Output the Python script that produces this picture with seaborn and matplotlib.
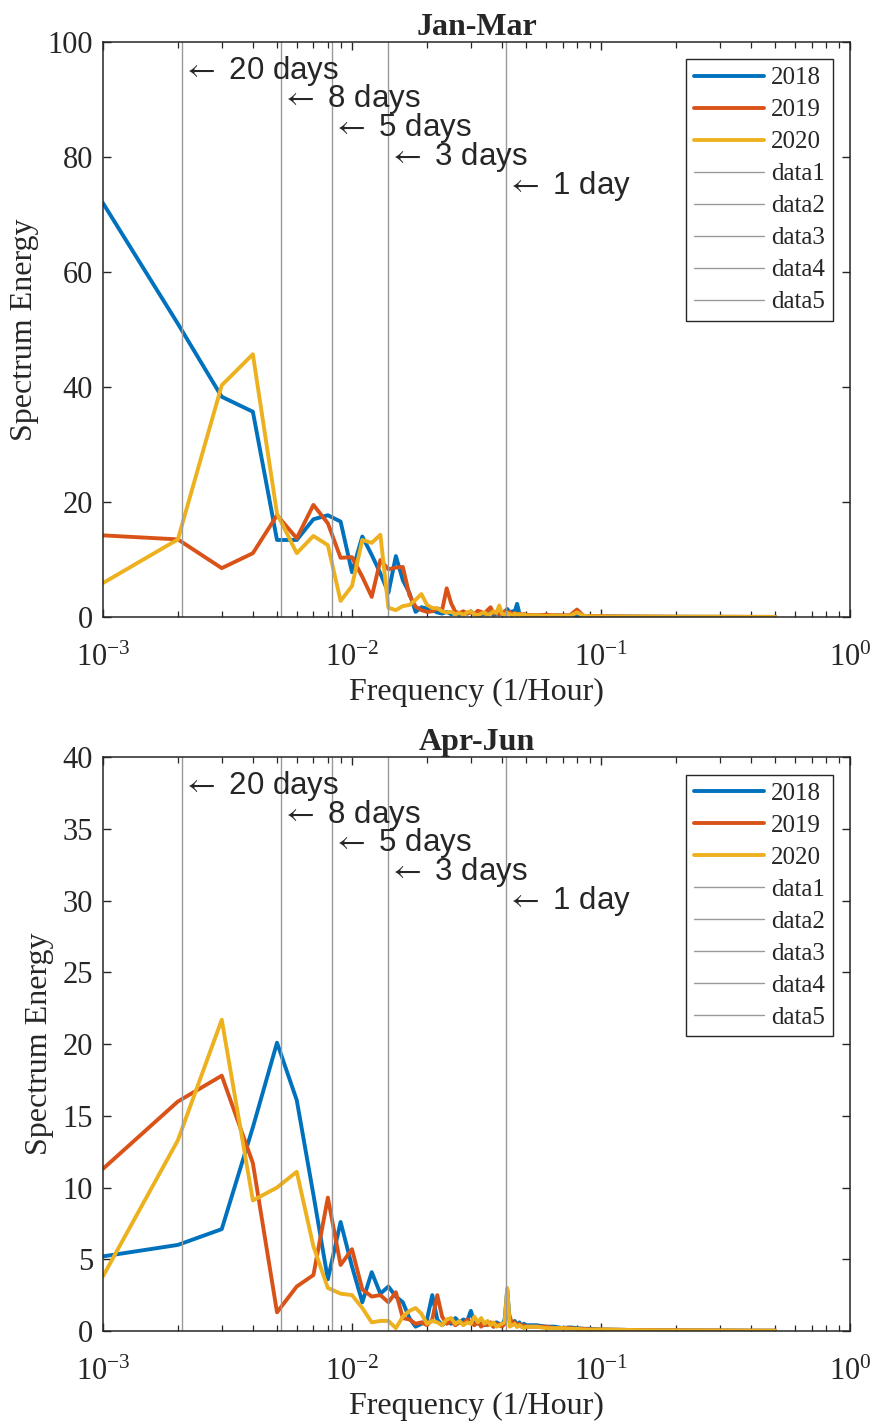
import numpy as np
import pandas as pd
import matplotlib
matplotlib.use("Agg")
import matplotlib.pyplot as plt
import seaborn as sns

# frequency grid index (1/1000 per hour steps), dense at low freq, sparse tail
freq_idx = list(range(1, 51)) + [55, 60, 65, 70, 75, 80, 85, 90, 100, 120, 150, 200, 300, 400, 500]
freq = np.array(freq_idx) / 1000.0

years = ['2018', '2019', '2020']
colors = ['#0072BD', '#D95319', '#EDB120']

# Jan-Mar
q1_2018 = [72.0, 51.0, 38.3, 35.7, 13.4, 13.4, 17.0, 17.7, 16.6, 7.8,
           14.0, 10.8, 7.6, 4.2, 10.6, 6.4, 4.2, 0.9, 1.7, 1.5,
           1.2, 0.8, 0.6, 0.9, 0.5, 0.7, 0.4, 0.8, 0.6, 1.0,
           0.5, 0.7, 0.4, 0.6, 0.5, 0.8, 0.4, 0.6, 0.5, 0.7,
           0.9, 1.4, 0.8, 1.0, 0.9, 2.3, 0.6, 0.3, 0.4, 0.3,
           0.3, 0.2, 0.3, 0.2, 0.2, 0.15, 0.15, 0.1, 0.1, 0.08, 0.05, 0.04, 0.03, 0.02, 0.02]
q1_2019 = [14.2, 13.5, 8.5, 11.1, 17.7, 13.7, 19.5, 16.3, 10.3, 10.4,
           7.0, 3.5, 9.9, 8.3, 8.6, 8.7, 3.8, 1.8, 1.2, 0.9,
           1.0, 1.5, 1.2, 5.0, 2.4, 0.9, 0.7, 1.0, 0.6, 0.8,
           0.5, 1.1, 0.9, 0.6, 1.2, 1.7, 0.6, 0.8, 0.5, 0.7,
           1.0, 0.6, 0.9, 0.5, 0.7, 0.4, 0.6, 0.4, 0.5, 0.4,
           0.3, 0.4, 0.3, 0.3, 0.3, 1.3, 0.2, 0.2, 0.15, 0.1, 0.08, 0.05, 0.04, 0.03, 0.02]
q1_2020 = [5.9, 13.5, 40.3, 45.7, 18.0, 11.1, 14.1, 12.5, 2.8, 5.4,
           13.4, 12.9, 14.3, 1.6, 1.2, 1.9, 2.1, 3.0, 4.0, 2.1,
           1.6, 1.5, 1.0, 0.8, 0.9, 0.5, 0.7, 0.4, 0.8, 1.0,
           0.5, 0.3, 0.6, 0.8, 0.4, 0.6, 1.0, 0.7, 2.0, 0.6,
           0.4, 0.7, 0.5, 0.3, 0.6, 0.4, 0.5, 0.3, 0.4, 0.3,
           0.3, 0.2, 0.3, 0.2, 0.2, 0.8, 0.2, 0.15, 0.1, 0.08, 0.06, 0.05, 0.04, 0.03, 0.02]

# Apr-Jun
q2_2018 = [5.2, 6.0, 7.1, 14.2, 20.1, 16.1, 9.5, 3.6, 7.6, 4.5,
           2.0, 4.1, 2.6, 3.1, 2.4, 2.0, 0.9, 0.3, 0.5, 0.8,
           2.5, 0.8, 0.4, 0.7, 0.5, 0.9, 0.6, 0.8, 0.7, 1.4,
           0.6, 0.5, 0.7, 0.4, 0.6, 0.5, 0.3, 0.6, 0.5, 0.4,
           0.8, 2.9, 0.6, 0.5, 0.7, 0.4, 0.6, 0.3, 0.5, 0.4,
           0.4, 0.3, 0.3, 0.2, 0.25, 0.2, 0.15, 0.15, 0.1, 0.08, 0.05, 0.04, 0.03, 0.02, 0.02]
q2_2019 = [11.3, 16.0, 17.8, 11.7, 1.3, 3.1, 3.9, 9.3, 4.6, 5.7,
           2.9, 2.4, 2.5, 2.0, 2.7, 0.9, 0.8, 0.5, 0.6, 0.4,
           0.8, 2.5, 1.0, 0.5, 0.7, 0.4, 0.6, 0.5, 0.8, 0.6,
           0.4, 0.7, 0.3, 0.5, 0.4, 0.6, 0.3, 0.5, 0.4, 0.3,
           0.5, 1.6, 1.0, 0.5, 0.6, 0.3, 0.5, 0.3, 0.4, 0.3,
           0.3, 0.3, 0.2, 0.2, 0.2, 0.15, 0.15, 0.1, 0.1, 0.08, 0.05, 0.04, 0.03, 0.02, 0.02]
q2_2020 = [3.8, 13.3, 21.7, 9.1, 10.0, 11.1, 5.9, 3.0, 2.6, 2.5,
           1.6, 0.6, 0.7, 0.7, 0.2, 1.0, 1.4, 1.6, 1.2, 0.5,
           0.7, 0.6, 0.4, 0.8, 0.9, 0.5, 0.7, 0.4, 0.6, 0.5,
           1.0, 0.6, 0.9, 0.5, 0.7, 0.4, 0.6, 0.3, 0.4, 0.5,
           0.6, 3.0, 0.3, 0.4, 0.5, 0.3, 0.4, 0.3, 0.2, 0.3,
           0.3, 0.2, 0.2, 0.2, 0.15, 0.15, 0.1, 0.1, 0.1, 0.08, 0.05, 0.04, 0.03, 0.02, 0.02]

periods_days = [20, 8, 5, 3, 1]
period_labels = ['20 days', '8 days', '5 days', '3 days', '1 day']
q1_text_y = [95, 90, 85, 80, 75]
q2_text_y = [38, 36, 34, 32, 30]

sns.set_style('ticks')
plt.rcParams['font.family'] = ['Liberation Serif', 'DejaVu Serif']
plt.rcParams['mathtext.fontset'] = 'stix'
plt.rcParams['axes.edgecolor'] = '#262626'
plt.rcParams['xtick.color'] = '#262626'
plt.rcParams['ytick.color'] = '#262626'

fig = plt.figure(figsize=(8.72, 14.27), dpi=100)
ax1 = fig.add_axes([0.118, 0.5676, 0.857, 0.403])
ax2 = fig.add_axes([0.118, 0.0673, 0.857, 0.402])


def draw_panel(ax, series, title, ymax, yticks, text_y):
    for name, vals, c in zip(years, series, colors):
        sns.lineplot(x=freq, y=vals, color=c, linewidth=2.8, label=name, ax=ax)
    for i, d in enumerate(periods_days):
        f = 1.0 / (d * 24)
        ax.axvline(f, color='#999999', linewidth=1.0, label='data%d' % (i + 1))
        ax.text(f, text_y[i], r'$\leftarrow$ ' + period_labels[i], fontsize=22.5,
                family=['Liberation Sans', 'DejaVu Sans'], va='center', ha='left')
    ax.set_xscale('log')
    ax.set_xlim(1e-3, 1)
    ax.set_ylim(0, ymax)
    ax.set_yticks(yticks)
    ax.set_title(title, fontsize=23, fontweight='bold', pad=4)
    ax.set_xlabel('Frequency (1/Hour)', fontsize=23, labelpad=4)
    ax.set_ylabel('Spectrum Energy', fontsize=23, labelpad=6)
    ax.tick_params(which='both', direction='in', top=True, right=True, labelsize=22)
    ax.tick_params(which='major', length=6, width=1.0)
    ax.tick_params(which='minor', length=4, width=0.9)
    ax.tick_params(axis='x', pad=19)
    ax.tick_params(axis='y', pad=7)
    for s in ax.spines.values():
        s.set_linewidth(1.1)
    leg = ax.legend(loc='upper right', fontsize=18, fancybox=False, framealpha=1,
                    edgecolor='#262626', handlelength=2.8, handletextpad=0.3,
                    labelspacing=0.38, borderaxespad=0.7, borderpad=0.3)
    leg.get_frame().set_linewidth(1.0)


draw_panel(ax1, [q1_2018, q1_2019, q1_2020], 'Jan-Mar', 100, [0, 20, 40, 60, 80, 100], q1_text_y)
draw_panel(ax2, [q2_2018, q2_2019, q2_2020], 'Apr-Jun', 40, [0, 5, 10, 15, 20, 25, 30, 35, 40], q2_text_y)

fig.savefig('out.png', dpi=100)
